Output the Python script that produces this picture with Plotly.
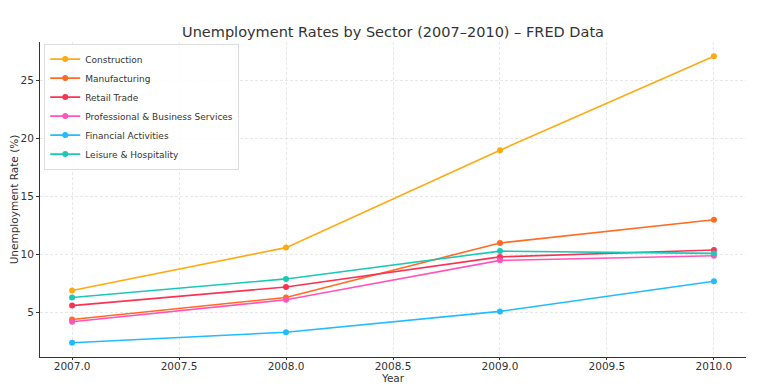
import plotly.graph_objects as go

years = [2007, 2008, 2009, 2010]
construction = [6.9, 10.6, 19.0, 27.1]
manufacturing = [4.4, 6.3, 11.0, 13.0]
retail = [5.6, 7.2, 9.8, 10.4]
professional = [4.2, 6.1, 9.5, 9.9]
financial = [2.4, 3.3, 5.1, 7.7]
leisure = [6.3, 7.9, 10.3, 10.1]

series_names = ["Construction", "Manufacturing", "Retail Trade",
                "Professional & Business Services", "Financial Activities",
                "Leisure & Hospitality"]
series_values = [construction, manufacturing, retail, professional, financial, leisure]
colors = ["#FFAA11", "#FF6B22", "#FA3355", "#FF55BB", "#22BBFF", "#1CC8B5"]

fig = go.Figure()
for name, vals, c in zip(series_names, series_values, colors):
    fig.add_trace(go.Scatter(x=years, y=vals, name=name, mode="lines+markers",
                             line=dict(color=c, width=1.6),
                             marker=dict(color=c, size=6)))

# page has an 8px body margin, so the figure is 8px smaller than the window
font = "DejaVu Sans, sans-serif"
fig.update_layout(
    width=749, height=380,
    margin=dict(l=32, r=11, t=34, b=31, autoexpand=False),
    paper_bgcolor="white", plot_bgcolor="white",
    font=dict(family=font, color="#333333", size=10),
    title=dict(text="Unemployment Rates by Sector (2007–2010) – FRED Data",
               x=0.5, xanchor="center", y=0.937, yanchor="middle",
               xref="paper", yref="container",
               font=dict(size=14.5, color="#333333"), automargin=False),
    showlegend=True,
    legend=dict(x=0.006, y=0.995, xanchor="left", yanchor="top",
                bgcolor="rgba(255,255,255,0.85)", bordercolor="#DDDDDD", borderwidth=1,
                font=dict(size=9, color="#333333"), itemwidth=30, tracegroupgap=0),
)
fig.update_xaxes(
    range=[2006.85, 2010.15], tickvals=[2007, 2007.5, 2008, 2008.5, 2009, 2009.5, 2010],
    tickformat=".1f", showgrid=True, gridcolor="#E8E8E8", griddash="3px,2px", gridwidth=0.8,
    showline=True, linecolor="#333333", linewidth=1, ticks="outside", ticklen=2,
    tickcolor="#333333", zeroline=False, tickfont=dict(size=10.5), automargin=False,
    ticklabelstandoff=-3,
    title=dict(text="Year", font=dict(size=10.5), standoff=0),
)
fig.update_yaxes(
    range=[1.165, 28.335], tickvals=[5, 10, 15, 20, 25],
    showgrid=True, gridcolor="#E8E8E8", griddash="3px,2px", gridwidth=0.8,
    showline=True, linecolor="#333333", linewidth=1, ticks="outside", ticklen=3,
    tickcolor="#333333", zeroline=False, tickfont=dict(size=10.5), automargin=False,
    title=dict(text="Unemployment Rate (%)", font=dict(size=10.5), standoff=1),
)

fig.write_html("out.html")
